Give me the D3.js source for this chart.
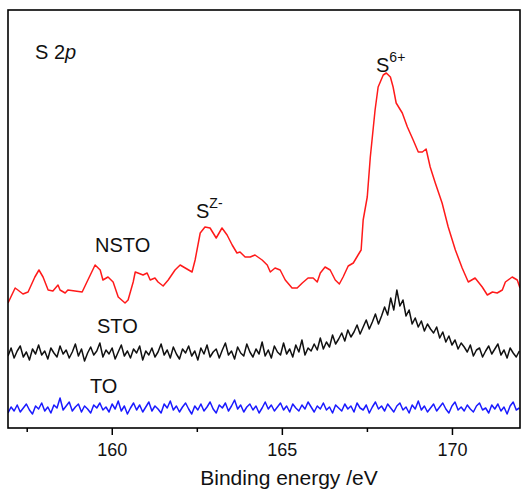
<!DOCTYPE html>
<html>
<head>
<meta charset="utf-8">
<script src="https://cdn.jsdelivr.net/npm/d3@7"></script>
<style>
  html, body { margin: 0; padding: 0; background: #fff; }
  svg { display: block; font-family: "Liberation Sans", Arial, sans-serif; }
</style>
</head>
<body>
<svg id="chart" width="522" height="489"></svg>
<script>
// ---------- DATA (binding energy in eV, intensity in arbitrary units) ----------
const majorTicks = [160, 165, 170];
const minorTicks = [157.5, 162.5, 167.5];

// NSTO (red) – smoothed spectrum, read point by point
const nstoEnergy = [156.95,157.16,157.24,157.39,157.54,157.74,157.86,157.98,158.13,158.27,
  158.42,158.48,158.63,158.71,158.92,159.13,159.27,159.51,159.66,159.74,
  159.89,160.04,160.19,160.39,160.48,160.63,160.69,160.77,160.92,161.04,
  161.13,161.27,161.36,161.51,161.66,161.86,162.01,162.16,162.36,162.45,
  162.60,162.74,162.89,163.07,163.24,163.39,163.54,163.68,163.77,163.92,
  164.07,164.21,164.42,164.57,164.66,164.80,164.95,165.10,165.30,165.45,
  165.60,165.77,165.92,166.04,166.13,166.27,166.42,166.57,166.69,166.80,
  166.95,167.10,167.24,167.33,167.39,167.51,167.60,167.74,167.83,167.98,
  168.07,168.19,168.27,168.36,168.54,168.69,168.86,169.01,169.13,169.24,
  169.36,169.51,169.71,169.89,170.10,170.30,170.48,170.68,170.89,171.04,
  171.19,171.33,171.48,171.57,171.77,171.92,172.00];
const nstoIntensity = [125,140,138,134,136,151,158,151,138,137,
  143,138,135,138,137,136,146,163,158,148,
  151,146,131,125,128,146,156,155,153,155,
  148,150,146,142,148,158,163,160,156,168,
  195,201,200,190,200,193,183,175,176,171,
  171,173,168,163,156,160,158,148,140,140,
  145,150,150,146,155,161,158,148,144,151,
  162,165,173,178,208,231,271,318,341,353,
  355,351,341,325,315,301,288,276,276,279,
  261,245,225,201,178,160,146,150,141,133,
  136,135,138,146,151,148,140];

// STO (black) and TO (blue) – raw noisy scans, 0.09 eV step from 156.95 eV
const scanStart = 156.95;
const scanStep = 0.09;
const stoIntensity = [72,80,70,77,82,71,76,68,79,74,
  83,73,77,69,80,75,71,82,74,78,
  70,76,84,72,79,67,75,81,73,77,
  85,71,78,74,80,69,76,83,72,77,
  70,79,75,82,68,77,73,80,71,76,
  84,73,78,70,81,74,69,79,75,82,
  72,77,68,80,74,83,71,76,79,70,
  78,85,73,77,69,81,75,72,84,76,
  71,79,74,86,72,78,70,82,76,73,
  85,74,79,71,83,76,88,73,80,77,
  84,78,90,79,86,81,93,84,89,95,
  87,98,91,96,103,94,101,108,99,106,
  114,104,112,121,113,130,118,138,122,128,
  112,118,104,110,101,107,97,104,99,95,
  101,90,96,86,92,83,88,79,85,81,
  76,83,72,78,80,71,77,82,74,79,
  84,73,78,70,80,75,71,77];
const toIntensity = [15,21,17,23,16,20,24,18,14,22,
  19,25,17,21,15,23,20,30,18,22,
  26,17,21,24,16,22,19,15,23,20,
  25,18,21,16,24,19,27,17,22,14,
  20,25,18,23,16,21,26,17,22,19,
  15,24,20,27,18,22,16,21,25,19,
  14,22,18,24,17,21,26,19,15,23,
  20,25,17,22,28,19,23,16,21,24,
  18,22,15,20,26,19,23,17,21,25,
  18,22,16,24,20,17,23,19,26,21,
  16,22,19,25,18,21,15,23,20,17,
  24,19,22,16,25,20,18,23,15,21,
  26,19,22,17,24,20,16,22,25,18,
  21,15,23,19,27,18,22,16,20,24,
  17,21,25,19,15,22,26,18,21,17,
  23,19,16,22,25,18,20,15,23,19,
  24,17,21,14,22,26,18,20];

// ---------- LAYOUT ----------
const svg = d3.select("#chart");
const plot = { left: 8, right: 520, top: 10, bottom: 428 };

const x = d3.scaleLinear().domain([156.95, 172.0]).range([plot.left, plot.right]);
const y = d3.scaleLinear().domain([0, 418]).range([plot.bottom, plot.top]);

const clip = svg.append("clipPath").attr("id", "clip")
  .append("rect")
  .attr("x", plot.left).attr("y", plot.top)
  .attr("width", plot.right - plot.left).attr("height", plot.bottom - plot.top);

const line = d3.line().x(d => x(d[0])).y(d => y(d[1]));

const series = [
  { data: nstoEnergy.map((e, i) => [e, nstoIntensity[i]]), color: "#ff1a1a" },
  { data: stoIntensity.map((v, i) => [scanStart + i * scanStep, v]), color: "#111111" },
  { data: toIntensity.map((v, i) => [scanStart + i * scanStep, v]), color: "#1a1aff" }
];

const g = svg.append("g").attr("clip-path", "url(#clip)");
series.forEach(s => {
  g.append("path")
    .datum(s.data)
    .attr("fill", "none")
    .attr("stroke", s.color)
    .attr("stroke-width", 1.5)
    .attr("stroke-linejoin", "round")
    .attr("d", line);
});

// frame
svg.append("rect")
  .attr("x", plot.left).attr("y", plot.top)
  .attr("width", plot.right - plot.left).attr("height", plot.bottom - plot.top)
  .attr("fill", "none").attr("stroke", "#000").attr("stroke-width", 1.6);

// axes
const axMajor = svg.append("g")
  .attr("transform", `translate(0,${plot.bottom})`)
  .call(d3.axisBottom(x).tickValues(majorTicks).tickSize(7).tickPadding(8).tickFormat(d3.format("d")));
axMajor.select(".domain").remove();
axMajor.selectAll("line").attr("stroke-width", 1.5);
axMajor.selectAll("text").attr("font-size", 18).attr("fill", "#111")
  .attr("font-family", "'Liberation Sans', Arial, sans-serif");

const axMinor = svg.append("g")
  .attr("transform", `translate(0,${plot.bottom})`)
  .call(d3.axisBottom(x).tickValues(minorTicks).tickSize(4).tickFormat(""));
axMinor.select(".domain").remove();
axMinor.selectAll("line").attr("stroke-width", 1.5);

// axis title
svg.append("text")
  .attr("x", 289).attr("y", 485)
  .attr("text-anchor", "middle")
  .attr("font-size", 21).attr("fill", "#111")
  .text("Binding energy /eV");

// labels
const s2p = svg.append("text").attr("x", 35).attr("y", 59).attr("font-size", 20).attr("fill", "#111");
s2p.append("tspan").text("S 2");
s2p.append("tspan").attr("font-style", "italic").text("p");

const labels = [
  { t: "NSTO", x: 95, y: 252 },
  { t: "STO", x: 97, y: 333 },
  { t: "TO", x: 90, y: 393 }
];
labels.forEach(l => {
  svg.append("text").attr("x", l.x).attr("y", l.y)
    .attr("font-size", 20).attr("fill", "#111").text(l.t);
});

function supLabel(xp, yp, base, sup) {
  const t = svg.append("text").attr("x", xp).attr("y", yp).attr("font-size", 20).attr("fill", "#111");
  t.append("tspan").text(base);
  t.append("tspan").attr("font-size", 14).attr("dy", -10).text(sup);
}
supLabel(196, 218, "S", "Z-");
supLabel(376, 72, "S", "6+");
</script>
</body>
</html>
